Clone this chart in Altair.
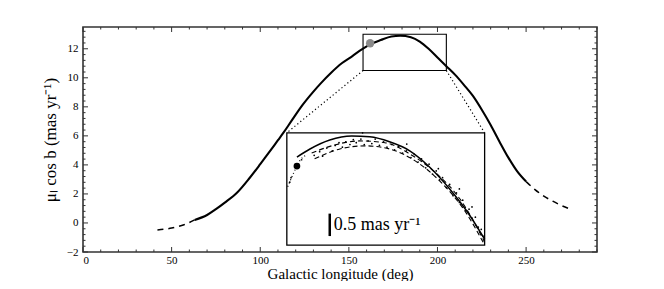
import altair as alt
import pandas as pd

# ---------------- data ----------------
# main model curve (Galactic longitude, mu_l cos b)
main_l = [63, 70, 75, 80, 87, 94, 100, 104, 110, 113, 118, 124, 130, 134, 140, 146, 152, 156,
          162, 168, 174, 179, 185, 190, 195, 200, 205, 210, 215, 220, 225, 230, 235, 240, 245, 250]
main_mu = [0.21, 0.55, 0.95, 1.4, 2.1, 3.1, 4.05, 4.7, 5.7, 6.2, 7.1, 8.15, 9.05, 9.6, 10.35, 11.0, 11.5, 11.85,
           12.3, 12.6, 12.85, 12.9, 12.8, 12.5, 12.0, 11.4, 10.8, 10.2, 9.5, 8.75, 7.8, 6.75, 5.6, 4.5, 3.55, 2.85]
# dashed extrapolations
dashL_l = [42, 50, 57, 63]
dashL_mu = [-0.48, -0.35, -0.12, 0.21]
dashR_l = [250, 255, 260, 265, 270, 276]
dashR_mu = [2.85, 2.3, 1.85, 1.5, 1.2, 0.9]

# zoom rectangle (main coordinates) and inset box (main coordinates)
zoom_l = [158, 205]
zoom_mu = [10.5, 13.0]
inset_l = [115, 226.6]
inset_mu = [-1.52, 6.21]

# grey data point on main curve
grey_l = [162]
grey_mu = [12.38]

# inset: solid model
in_solid_l = [160.4, 163.5, 168.2, 173.4, 177.7, 182.4, 187.2, 191.9, 196.7, 201.4, 205.0]
in_solid_mu = [12.46, 12.64, 12.84, 12.93, 12.91, 12.80, 12.60, 12.24, 11.75, 11.17, 10.63]
# inset: dashed models
in_dashA_l = [163.9, 169.4, 175.3, 181.3, 187.2, 193.1, 199.1, 205.0]
in_dashA_mu = [12.55, 12.73, 12.82, 12.78, 12.53, 12.13, 11.53, 10.57]
in_dashB_l = [164.6, 170.6, 176.5, 182.4, 188.4, 194.3, 200.3, 205.0]
in_dashB_mu = [12.42, 12.64, 12.71, 12.64, 12.38, 11.93, 11.26, 10.5]
# inset: dotted model
in_dot_l = [158.2, 159.4, 161.1, 162.5]
in_dot_mu = [11.8, 12.06, 12.38, 12.5]
# inset: scattered observations
in_sc_l = [164.5, 165.8, 166.5, 167.5, 168.8, 169.5, 170.4, 171.2, 172.0, 173.0, 173.8, 174.5, 175.6, 176.4,
           177.3, 178.2, 179.0, 180.0, 181.0, 181.8, 182.9, 183.6, 184.6, 185.5, 186.4, 187.5, 188.3, 189.2,
           190.0, 191.0, 191.8, 192.6, 193.5, 194.3, 195.0, 195.9, 196.7, 197.5, 198.3, 199.0, 199.8, 200.5,
           201.3, 202.0, 202.8, 203.5, 204.2, 204.6, 176.0, 186.5, 194.0, 199.0, 202.0, 158.7, 159.0, 161.5]
in_sc_mu = [12.5, 12.58, 12.48, 12.66, 12.6, 12.72, 12.78, 12.68, 12.80, 12.74, 12.85, 12.78, 12.86, 12.74,
            12.82, 12.76, 12.86, 12.72, 12.80, 12.68, 12.74, 12.62, 12.70, 12.55, 12.60, 12.45, 12.52, 12.35,
            12.42, 12.22, 12.30, 12.08, 12.15, 11.95, 12.0, 11.78, 11.85, 11.6, 11.66, 11.45, 11.5, 11.28,
            11.3, 11.1, 11.12, 10.9, 10.85, 10.7, 13.0, 12.75, 12.2, 11.75, 11.35, 11.9, 12.0, 12.4]
# inset: big black point
in_big_l = [160.4]
in_big_mu = [12.26]
# inset: scale bar (0.5 mas/yr)
bar_l = [168.2]
bar_mu = [10.7, 11.2]
bar_label = "0.5 mas yr\u207b\u00b9"

x_ticks = [0, 50, 100, 150, 200, 250]
y_ticks = [-2, 0, 2, 4, 6, 8, 10, 12]

# ---------------- layout ----------------
W, H = 514, 225
XD = [0, 290]
YD = [-2, 13.5]
FONT = "Liberation Serif"

def px(v):
    return (v - XD[0]) / (XD[1] - XD[0]) * W

def py(v):
    return H - (v - YD[0]) / (YD[1] - YD[0]) * H

xs = alt.Scale(domain=XD, nice=False, zero=False)
ys = alt.Scale(domain=YD, nice=False, zero=False)
ixs = alt.Scale(domain=zoom_l, range=[px(inset_l[0]), px(inset_l[1])], nice=False, zero=False)
iys = alt.Scale(domain=zoom_mu, range=[py(inset_mu[0]), py(inset_mu[1])], nice=False, zero=False)

def line(l, mu, dash=None, width=1.5, xsc=xs, ysc=ys, color="black"):
    df = pd.DataFrame({"l": l, "mu": mu, "o": range(len(l))})
    kw = dict(stroke=color, strokeWidth=width, interpolate="monotone")
    if dash:
        kw["strokeDash"] = dash
    return alt.Chart(df).mark_line(**kw).encode(
        x=alt.X("l:Q", scale=xsc, axis=None),
        y=alt.Y("mu:Q", scale=ysc, axis=None),
        order="o:Q",
    )

# main curve with axes
main_df = pd.DataFrame({"l": main_l, "mu": main_mu, "o": range(len(main_l))})
main = alt.Chart(main_df).mark_line(stroke="black", strokeWidth=2.1, interpolate="monotone").encode(
    x=alt.X("l:Q", scale=xs, title="Galactic longitude (deg)",
            axis=alt.Axis(values=x_ticks, domain=False, ticks=False, grid=False,
                          labelPadding=2, titleY=26.5, titleBaseline="alphabetic",
                          titleFontSize=15, format="d")),
    y=alt.Y("mu:Q", scale=ys, title="\u03bc\u2097 cos b (mas yr\u207b\u00b9)",
            axis=alt.Axis(values=y_ticks, domain=False, ticks=False, grid=False,
                          labelPadding=5, titleX=-33, titleY=H / 2, titleAngle=270,
                          titleAlign="center", titleBaseline="middle",
                          labelExpr="replace(datum.label, '-', '\u2212')")),
    order="o:Q",
)

dashL = line(dashL_l, dashL_mu, dash=[6, 5], width=1.5)
dashR = line(dashR_l, dashR_mu, dash=[6, 5], width=1.5)

# zoom rectangle
zoom_df = pd.DataFrame({"l": [zoom_l[0]], "l2": [zoom_l[1]], "mu": [zoom_mu[0]], "mu2": [zoom_mu[1]]})
zoom_rect = alt.Chart(zoom_df).mark_rect(fill=None, stroke="black", strokeWidth=1.1, fillOpacity=0).encode(
    x=alt.X("l:Q", scale=xs, axis=None), x2="l2:Q",
    y=alt.Y("mu:Q", scale=ys, axis=None), y2="mu2:Q")

# connectors
con_df = pd.DataFrame({"l": [zoom_l[0], zoom_l[1]], "mu": [zoom_mu[0], zoom_mu[0]],
                       "l2": [inset_l[0], inset_l[1]], "mu2": [inset_mu[1], inset_mu[1]]})
connectors = alt.Chart(con_df).mark_rule(stroke="black", strokeWidth=1.2, strokeDash=[1.2, 2.6]).encode(
    x=alt.X("l:Q", scale=xs, axis=None), x2="l2:Q",
    y=alt.Y("mu:Q", scale=ys, axis=None), y2="mu2:Q")

grey = alt.Chart(pd.DataFrame({"l": grey_l, "mu": grey_mu})).mark_point(
    filled=True, color="#8a8a8a", size=70, opacity=1).encode(
    x=alt.X("l:Q", scale=xs, axis=None), y=alt.Y("mu:Q", scale=ys, axis=None))

# inset box (white, framed) drawn with the inset scales
ibox_df = pd.DataFrame({"l": [zoom_l[0]], "l2": [zoom_l[1]], "mu": [zoom_mu[0]], "mu2": [zoom_mu[1]]})
inset_box = alt.Chart(ibox_df).mark_rect(fill="white", stroke="black", strokeWidth=1.3).encode(
    x=alt.X("l:Q", scale=ixs, axis=None), x2="l2:Q",
    y=alt.Y("mu:Q", scale=iys, axis=None), y2="mu2:Q")

in_solid = line(in_solid_l, in_solid_mu, width=1.5, xsc=ixs, ysc=iys)
in_dashA = line(in_dashA_l, in_dashA_mu, dash=[5, 3], width=1.1, xsc=ixs, ysc=iys)
in_dashB = line(in_dashB_l, in_dashB_mu, dash=[5, 3], width=1.1, xsc=ixs, ysc=iys)
in_dot = line(in_dot_l, in_dot_mu, dash=[1, 2.5], width=1.2, xsc=ixs, ysc=iys)

in_sc = alt.Chart(pd.DataFrame({"l": in_sc_l, "mu": in_sc_mu})).mark_point(
    filled=True, color="black", size=3, opacity=1).encode(
    x=alt.X("l:Q", scale=ixs, axis=None), y=alt.Y("mu:Q", scale=iys, axis=None))

in_big = alt.Chart(pd.DataFrame({"l": in_big_l, "mu": in_big_mu})).mark_point(
    filled=True, color="black", size=45, opacity=1).encode(
    x=alt.X("l:Q", scale=ixs, axis=None), y=alt.Y("mu:Q", scale=iys, axis=None))

bar = alt.Chart(pd.DataFrame({"l": bar_l, "mu": [bar_mu[0]], "mu2": [bar_mu[1]]})).mark_rule(
    stroke="black", strokeWidth=2.5).encode(
    x=alt.X("l:Q", scale=ixs, axis=None),
    y=alt.Y("mu:Q", scale=iys, axis=None), y2="mu2:Q")

bar_text = alt.Chart(pd.DataFrame({"l": [bar_l[0]], "mu": [(bar_mu[0] + bar_mu[1]) / 2], "t": [bar_label]})).mark_text(
    align="left", baseline="middle", dx=4, font=FONT, fontSize=18, color="black").encode(
    x=alt.X("l:Q", scale=ixs, axis=None), y=alt.Y("mu:Q", scale=iys, axis=None), text="t:N")

# inward ticks on all four sides
x_major = list(range(0, 291, 50))
x_minor = [v for v in range(0, 291, 10) if v % 50 != 0]
y_major = list(range(-2, 14, 2))
y_minor = [round(-2 + 0.4 * i, 2) for i in range(0, 39) if i % 5 != 0]

def xticks(vals, length):
    df = pd.DataFrame({"v": vals})
    b = alt.Chart(df).mark_rule(stroke="#333", strokeWidth=1).encode(
        x=alt.X("v:Q", scale=xs, axis=None), y=alt.value(H), y2=alt.value(H - length))
    t = alt.Chart(df).mark_rule(stroke="#333", strokeWidth=1).encode(
        x=alt.X("v:Q", scale=xs, axis=None), y=alt.value(0), y2=alt.value(length))
    return [b, t]

def yticks(vals, length):
    df = pd.DataFrame({"v": vals})
    l = alt.Chart(df).mark_rule(stroke="#333", strokeWidth=1).encode(
        y=alt.Y("v:Q", scale=ys, axis=None), x=alt.value(0), x2=alt.value(length))
    r = alt.Chart(df).mark_rule(stroke="#333", strokeWidth=1).encode(
        y=alt.Y("v:Q", scale=ys, axis=None), x=alt.value(W), x2=alt.value(W - length))
    return [l, r]

tick_layers = xticks(x_major, 5) + xticks(x_minor, 2.5) + yticks(y_major, 5) + yticks(y_minor, 2.5)

chart = alt.layer(
    main, dashL, dashR, connectors, zoom_rect, grey,
    inset_box, in_dot, in_dashA, in_dashB, in_sc, in_solid, in_big, bar, bar_text,
    *tick_layers,
).resolve_scale(x="independent", y="independent").properties(
    width=W, height=H,
    autosize=alt.AutoSizeParams(type="none"),
    padding={"left": 75, "top": 19, "right": 59, "bottom": 29},
).configure_view(stroke="#333", strokeWidth=1.6).configure_axis(
    labelFont=FONT, titleFont=FONT, labelFontSize=11, titleFontSize=17,
    titleFontWeight="normal", labelColor="black", titleColor="black",
)

chart.save("out.html", embed_options={"renderer": "svg", "actions": False})
